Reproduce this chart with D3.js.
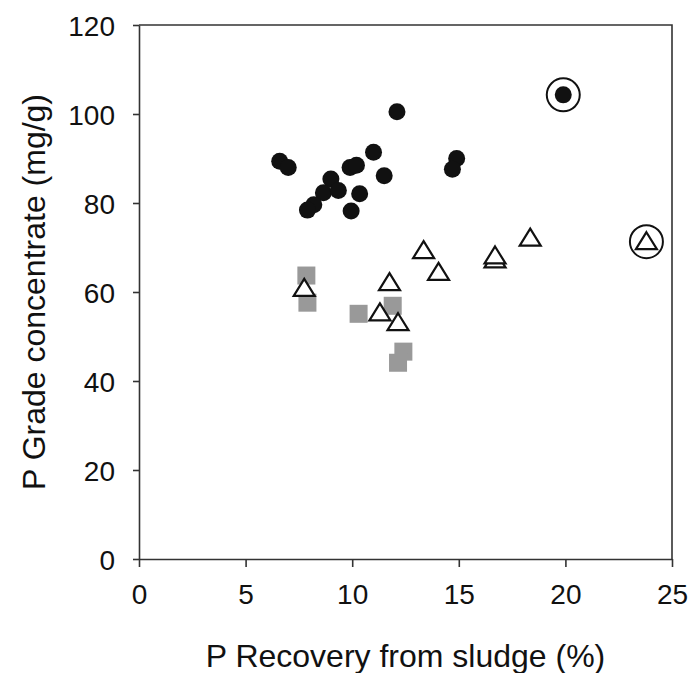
<!DOCTYPE html>
<html>
<head>
<meta charset="utf-8">
<script src="https://cdn.jsdelivr.net/npm/d3@7"></script>
<style>
  body { margin: 0; background: #fff; }
  svg text { font-family: "Liberation Sans", Arial, sans-serif; fill: #111; }
</style>
</head>
<body>
<svg width="690" height="673"></svg>
<script>
// Data
var circleX = [6.6, 7.0, 11.0, 9.9, 10.2, 11.5, 9.0, 8.65, 9.35, 10.35, 8.2, 7.9, 9.95, 14.9, 14.7, 12.1, 19.9];
var circleY = [89.4, 88.0, 91.4, 88.0, 88.5, 86.1, 85.4, 82.3, 82.8, 82.1, 79.6, 78.4, 78.2, 90.0, 87.6, 100.5, 104.3];

var squareX = [7.85, 7.9, 10.3, 11.9, 12.4, 12.15];
var squareY = [63.7, 57.6, 55.1, 56.9, 46.6, 44.1];

var triX = [7.75, 11.75, 11.3, 12.15, 13.35, 14.05, 16.7, 16.7, 18.35, 23.8];
var triY = [60.8, 62.1, 55.3, 53.1, 69.3, 64.4, 67.2, 68.1, 72.1, 71.3];

// points that are ringed in the figure
var ringed = [[19.9, 104.3], [23.8, 71.3]];

var xTicks = [0, 5, 10, 15, 20, 25];
var yTicks = [0, 20, 40, 60, 80, 100, 120];

var svg = d3.select("svg"),
  width = +svg.attr("width"),
  height = +svg.attr("height");

var plotLeft = 139, plotRight = 672, plotTop = 25, plotBottom = 559;

var x = d3.scaleLinear().domain([0, 25]).range([plotLeft, plotRight]);
var y = d3.scaleLinear().domain([0, 120]).range([plotBottom, plotTop]);

// frame (top and right)
svg.append("path")
  .attr("d", "M" + plotLeft + "," + plotTop + "H" + plotRight + "V" + plotBottom)
  .attr("fill", "none")
  .attr("stroke", "#333")
  .attr("stroke-width", 1.6);

var xAxis = svg.append("g")
  .attr("transform", "translate(0," + plotBottom + ")")
  .call(d3.axisBottom(x).tickValues(xTicks).tickSize(8).tickSizeOuter(0).tickPadding(13));

var yAxis = svg.append("g")
  .attr("transform", "translate(" + plotLeft + ",0)")
  .call(d3.axisLeft(y).tickValues(yTicks).tickSize(6).tickSizeOuter(0).tickPadding(18));

[xAxis, yAxis].forEach(function (g) {
  g.select(".domain").attr("stroke", "#333").attr("stroke-width", 1.6);
  g.selectAll(".tick line").attr("stroke", "#333").attr("stroke-width", 1.6);
  g.selectAll(".tick text")
    .style("font-family", "'Liberation Sans', Arial, sans-serif")
    .style("font-size", "28px")
    .attr("fill", "#111");
});
xAxis.selectAll(".tick text").attr("dy", "0.85em");
yAxis.selectAll(".tick text").attr("dy", "0.36em");

// axis titles
svg.append("text")
  .attr("x", (plotLeft + plotRight) / 2)
  .attr("y", 667)
  .attr("text-anchor", "middle")
  .style("font-size", "32px")
  .text("P Recovery from sludge (%)");

svg.append("text")
  .attr("transform", "translate(45," + (plotTop + plotBottom) / 2 + ") rotate(-90)")
  .attr("text-anchor", "middle")
  .style("font-size", "32px")
  .text("P Grade concentrate (mg/g)");

// squares (grey)
svg.append("g")
  .selectAll("rect")
  .data(d3.range(squareX.length))
  .enter()
  .append("rect")
  .attr("x", function (i) { return x(squareX[i]) - 9; })
  .attr("y", function (i) { return y(squareY[i]) - 9; })
  .attr("width", 18)
  .attr("height", 18)
  .attr("fill", "#999");

// filled circles
svg.append("g")
  .selectAll("circle")
  .data(d3.range(circleX.length))
  .enter()
  .append("circle")
  .attr("cx", function (i) { return x(circleX[i]); })
  .attr("cy", function (i) { return y(circleY[i]); })
  .attr("r", 8.5)
  .attr("fill", "#111");

// open triangles
svg.append("g")
  .selectAll("path")
  .data(d3.range(triX.length))
  .enter()
  .append("path")
  .attr("transform", function (i) { return "translate(" + x(triX[i]) + "," + y(triY[i]) + ")"; })
  .attr("d", "M0,-9.5L10.5,7.5L-10.5,7.5Z")
  .attr("fill", "#fff")
  .attr("stroke", "#111")
  .attr("stroke-width", 2.2)
  .attr("stroke-linejoin", "miter");

// rings around highlighted points
svg.append("g")
  .selectAll("circle")
  .data(ringed)
  .enter()
  .append("circle")
  .attr("cx", function (d) { return x(d[0]); })
  .attr("cy", function (d) { return y(d[1]); })
  .attr("r", 16.5)
  .attr("fill", "none")
  .attr("stroke", "#111")
  .attr("stroke-width", 2);
</script>
</body>
</html>
